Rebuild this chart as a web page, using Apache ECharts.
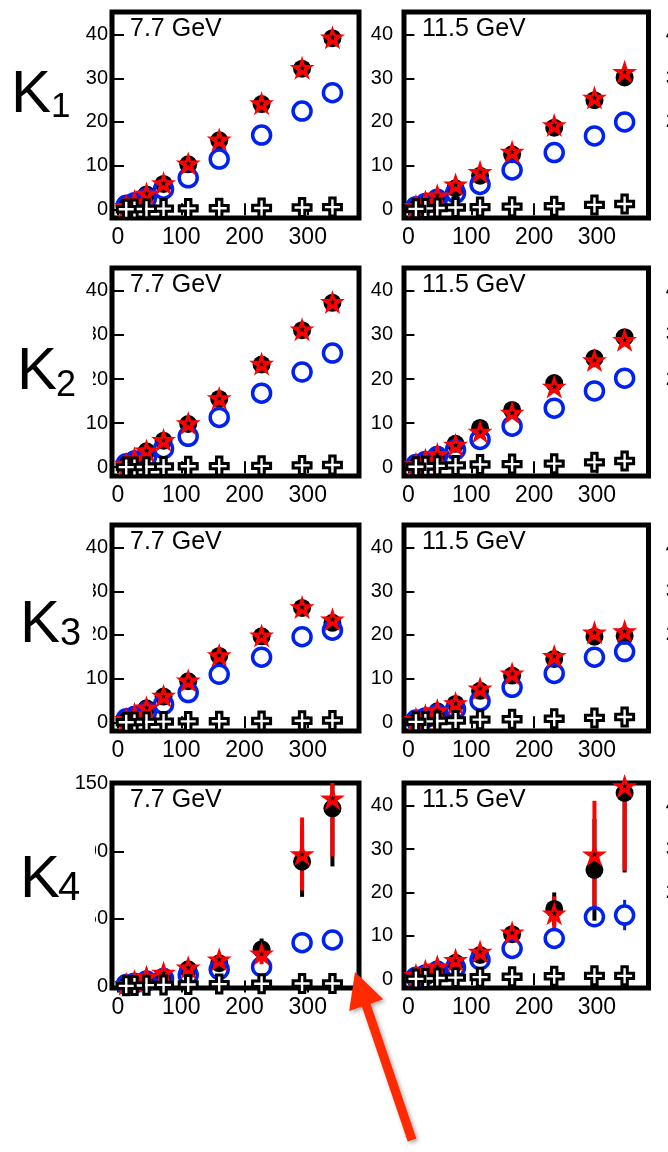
<!DOCTYPE html>
<html><head><meta charset="utf-8">
<script src="https://cdn.jsdelivr.net/npm/echarts@6/dist/echarts.min.js"></script>
<style>html,body{margin:0;padding:0;background:#fff}#c{width:668px;height:1152px}</style>
</head><body><div id="c"></div>
<script>
// ---------- data ----------
const npart77  = [339, 291, 227, 160, 111, 72, 45, 26, 13];
const npart115 = [344, 296, 232, 165, 114, 75, 46, 27, 12];
const energyLabels = ['7.7 GeV', '11.5 GeV'];
const orderLabels = ['1', '2', '3', '4'];
const xTickValues = [0, 100, 200, 300];
const yTickValues = [0, 10, 20, 30, 40];
const yTickValuesK4_77 = [0, 50, 100, 150];

// K1
const k1_77_black  = [39.2, 32.2, 24.1, 15.8, 10.3, 5.8, 3.4, 1.7, 0.6];
const k1_77_red    = [39.4, 32.4, 24.3, 16.0, 10.5, 6.0, 3.6, 1.9, 0.8];
const k1_77_blue   = [26.7, 22.5, 17.0, 11.5, 7.2, 4.6, 2.5, 1.5, 0.9];
const k1_77_cross  = [0.5, 0.4, 0.3, 0.25, 0.2, 0.15, 0.1, 0.05, 0.02];
const k1_115_black = [30.2, 25.0, 18.7, 12.6, 7.7, 4.8, 2.5, 1.3, 0.6];
const k1_115_red   = [31.5, 25.6, 19.3, 13.2, 8.6, 5.7, 3.2, 1.8, 0.8];
const k1_115_blue  = [20.0, 16.8, 13.0, 9.0, 5.7, 3.7, 2.3, 1.3, 0.6];
const k1_115_cross = [1.2, 1.0, 0.7, 0.6, 0.5, 0.4, 0.3, 0.2, 0.1];
// K2
const k2_77_black  = [37.3, 31.1, 23.3, 15.5, 9.8, 6.0, 3.6, 1.8, 0.6];
const k2_77_red    = [37.5, 31.3, 23.5, 15.7, 10.0, 6.2, 3.8, 2.0, 0.8];
const k2_77_blue   = [25.9, 21.6, 16.8, 11.3, 7.0, 4.2, 2.3, 1.4, 0.8];
const k2_77_cross  = [0.5, 0.4, 0.3, 0.25, 0.2, 0.15, 0.1, 0.05, 0.02];
const k2_115_black = [29.5, 24.7, 19.1, 13.0, 8.9, 5.3, 2.8, 1.5, 0.6];
const k2_115_red   = [28.9, 24.3, 18.3, 12.4, 8.1, 5.1, 3.0, 1.7, 0.8];
const k2_115_blue  = [20.2, 17.3, 13.4, 9.3, 6.3, 4.0, 2.4, 1.3, 0.6];
const k2_115_cross = [1.4, 1.1, 0.8, 0.7, 0.6, 0.4, 0.3, 0.2, 0.1];
// K3
const k3_77_black  = [22.8, 26.2, 19.7, 15.2, 9.4, 5.9, 3.2, 1.7, 0.6];
const k3_77_red    = [23.6, 26.4, 19.9, 15.4, 9.6, 6.1, 3.4, 1.9, 0.8];
const k3_77_blue   = [21.1, 19.6, 14.9, 11.0, 6.8, 4.1, 2.3, 1.3, 0.8];
const k3_77_cross  = [0.4, 0.35, 0.3, 0.25, 0.2, 0.15, 0.1, 0.05, 0.02];
const k3_115_black = [19.8, 19.6, 14.5, 10.7, 7.2, 4.2, 2.5, 1.3, 0.6];
const k3_115_red   = [20.9, 20.6, 15.2, 11.2, 7.8, 4.4, 2.8, 1.6, 0.8];
const k3_115_blue  = [16.2, 14.9, 11.2, 8.0, 4.9, 3.0, 1.8, 1.0, 0.5];
const k3_115_cross = [1.2, 1.0, 0.8, 0.7, 0.6, 0.4, 0.3, 0.2, 0.1];
// K4
const k4_77_black  = [131.8, 92.3, 27.5, 17.2, 12.7, 7.3, 4.8, 3.0, 1.5];
const k4_77_red    = [139.2, 98.0, 24.5, 20.1, 14.2, 10.2, 7.3, 4.0, 2.0];
const k4_77_blue   = [34.4, 32.4, 14.6, 12.7, 8.5, 6.0, 4.0, 2.5, 1.5];
const k4_77_cross  = [2.2, 2.2, 2.0, 1.8, 1.5, 1.2, 1.0, 0.8, 0.5];
const k4_77_blackErr = [43, 26, 8, 3, 2, 1.5, 1, 0.5, 0.3];
const k4_77_redErr   = [43, 27, 8, 3, 2, 1.5, 1, 0.5, 0.3];
const k4_77_blueErr  = [5, 2, 1, 0.8, 0.5, 0.3, 0.2, 0.1, 0.1];
const k4_115_black = [42.9, 25.2, 16.2, 10.4, 5.6, 3.8, 2.3, 1.3, 0.6];
const k4_115_red   = [44.5, 28.8, 15.2, 10.8, 6.4, 4.5, 3.0, 2.0, 1.0];
const k4_115_blue  = [14.8, 14.4, 9.4, 7.1, 4.5, 2.7, 1.8, 1.0, 0.5];
const k4_115_cross = [0.8, 0.8, 0.7, 0.6, 0.5, 0.4, 0.3, 0.2, 0.1];
const k4_115_blackErr = [18.3, 11.7, 3.8, 1, 0.7, 0.5, 0.3, 0.2, 0.1];
const k4_115_redErr   = [19.5, 12.3, 3.9, 1, 0.7, 0.5, 0.3, 0.2, 0.1];
const k4_115_blueErr  = [3.5, 2, 0.8, 0.5, 0.3, 0.2, 0.1, 0.1, 0.1];

// ---------- layout ----------
const FONT = 'Liberation Sans, Arial, Helvetica, sans-serif';
const BLUE = '#0022ee';
const cols = [
  {left: 112, width: 247, xMin: -9.5, xMax: 381, npart: npart77, yLabelMargin: 4},
  {left: 404, width: 244.5, xMin: -7, xMax: 382, npart: npart115, yLabelMargin: 11}
];
const rows = [{top: 12, bottom: 218}, {top: 268, bottom: 476}, {top: 525, bottom: 731}, {top: 783, bottom: 988}];

const panels = [
  [{black:k1_77_black, red:k1_77_red, blue:k1_77_blue, cross:k1_77_cross},
   {black:k1_115_black, red:k1_115_red, blue:k1_115_blue, cross:k1_115_cross}],
  [{black:k2_77_black, red:k2_77_red, blue:k2_77_blue, cross:k2_77_cross},
   {black:k2_115_black, red:k2_115_red, blue:k2_115_blue, cross:k2_115_cross}],
  [{black:k3_77_black, red:k3_77_red, blue:k3_77_blue, cross:k3_77_cross},
   {black:k3_115_black, red:k3_115_red, blue:k3_115_blue, cross:k3_115_cross}],
  [{black:k4_77_black, red:k4_77_red, blue:k4_77_blue, cross:k4_77_cross,
    blackErr:k4_77_blackErr, redErr:k4_77_redErr, blueErr:k4_77_blueErr, yMin:-1.1, yMax:150.5, yTicks:yTickValuesK4_77},
   {black:k4_115_black, red:k4_115_red, blue:k4_115_blue, cross:k4_115_cross,
    blackErr:k4_115_blackErr, redErr:k4_115_redErr, blueErr:k4_115_blueErr}]
];

const STAR = 'path://M50,0 L61.2,34.5 L97.6,34.5 L68.2,55.9 L79.4,90.5 L50,69.1 L20.6,90.5 L31.8,55.9 L2.4,34.5 L38.8,34.5 Z';
const PLUS = 'path://M7,0 L13,0 L13,7 L20,7 L20,13 L13,13 L13,20 L7,20 L7,13 L0,13 L0,7 L7,7 Z';

const grid = [], xAxis = [], yAxis = [], series = [], graphic = [];

// error bars drawn ROOT-style: gap around the marker
function errSeries(g, xs, ys, errs, color, width, gap, yMin, yMax) {
  return {
    type: 'custom', xAxisIndex: 2*g, yAxisIndex: 2*g, z: 2,
    encode: {x: 0, y: 1},
    data: xs.map((x, i) => [x, ys[i], errs[i]]),
    silent: true,
    renderItem: function (params, api) {
      const x = api.value(0), y = api.value(1), e = api.value(2);
      const hi = Math.min(y + e, yMax), lo = Math.max(y - e, yMin);
      const pc = api.coord([x, y]), p1 = api.coord([x, hi]), p2 = api.coord([x, lo]);
      const children = [];
      if (pc[1] - gap > p1[1]) children.push({type: 'line', shape: {x1: p1[0], y1: p1[1], x2: pc[0], y2: pc[1] - gap}, style: {stroke: color, lineWidth: width}});
      if (pc[1] + gap < p2[1]) children.push({type: 'line', shape: {x1: pc[0], y1: pc[1] + gap, x2: p2[0], y2: p2[1]}, style: {stroke: color, lineWidth: width}});
      return {type: 'group', children};
    }
  };
}

let g = 0;
rows.forEach((row, r) => {
  cols.forEach((col, c) => {
    const p = panels[r][c];
    const yMin = p.yMin !== undefined ? p.yMin : -2;
    const yMax = p.yMax !== undefined ? p.yMax : 45.2;
    const yT = p.yTicks || yTickValues;
    grid.push({left: col.left, top: row.top, width: col.width, height: row.bottom - row.top,
      show: true, borderColor: '#000', borderWidth: 5, backgroundColor: 'rgba(0,0,0,0)'});
    const tick = {inside: true, length: 6, lineStyle: {color: '#000', width: 2}};
    xAxis.push({gridIndex: g, type: 'value', min: col.xMin, max: col.xMax, position: 'bottom',
      axisLine: {show: false}, splitLine: {show: false},
      axisTick: Object.assign({customValues: xTickValues}, tick),
      axisLabel: {customValues: xTickValues, fontSize: 23, fontFamily: FONT, color: '#000', margin: 8}});
    xAxis.push({gridIndex: g, type: 'value', min: col.xMin, max: col.xMax, position: 'top',
      axisLine: {show: false}, splitLine: {show: false},
      axisTick: Object.assign({customValues: xTickValues}, tick), axisLabel: {show: false}});
    yAxis.push({gridIndex: g, type: 'value', min: yMin, max: yMax, position: 'left',
      axisLine: {show: false}, splitLine: {show: false},
      axisTick: Object.assign({customValues: yT}, tick),
      axisLabel: {customValues: yT, fontSize: 20, fontFamily: FONT, color: '#000', margin: col.yLabelMargin}});
    yAxis.push({gridIndex: g, type: 'value', min: yMin, max: yMax, position: 'right',
      axisLine: {show: false}, splitLine: {show: false},
      axisTick: Object.assign({customValues: yT}, tick), axisLabel: {show: false}});

    const xs = col.npart;
    const pts = arr => xs.map((x, i) => [x, arr[i]]);
    const sc = (extra) => Object.assign({type: 'scatter', xAxisIndex: 2*g, yAxisIndex: 2*g, z: 2}, extra);
    if (p.blackErr) series.push(errSeries(g, xs, p.black, p.blackErr, '#000', 4, 8, yMin, yMax));
    series.push(sc({symbol: 'circle', symbolSize: 18,
      itemStyle: {color: '#000', opacity: 1}, data: pts(p.black)}));
    if (p.blueErr) series.push(errSeries(g, xs, p.blue, p.blueErr, BLUE, 3, 10, yMin, yMax));
    series.push(sc({symbol: 'circle', symbolSize: 18,
      itemStyle: {color: 'rgba(0,0,0,0)', borderColor: BLUE, borderWidth: 3.5, opacity: 1}, data: pts(p.blue)}));
    if (p.redErr) series.push(errSeries(g, xs, p.red, p.redErr, '#ff0000', 4, 3, yMin, yMax));
    series.push(sc({symbol: STAR, symbolSize: [25, 24],
      itemStyle: {color: '#ff0000', opacity: 1}, data: pts(p.red)}));
    series.push(sc({symbol: STAR, symbolSize: [6, 6],
      itemStyle: {color: '#000', opacity: 1}, data: pts(p.red)}));
    series.push(sc({z: 3, symbol: PLUS, symbolSize: 18,
      itemStyle: {color: '#fff', borderColor: '#000', borderWidth: 3, opacity: 1}, data: pts(p.cross)}));

    graphic.push({type: 'text', x: col.left + 18, y: row.top + 17, z: 40,
      style: {text: energyLabels[c], font: '25px ' + FONT, fill: '#000', align: 'left', verticalAlign: 'middle'}});
    g++;
  });
  // third column (cut off at the right edge)
  grid.push({left: 692, top: row.top, width: 200, height: row.bottom - row.top, show: false});
  xAxis.push({gridIndex: g, type: 'value', min: 0, max: 380, show: false});
  xAxis.push({gridIndex: g, type: 'value', min: 0, max: 380, show: false, position: 'top'});
  yAxis.push({gridIndex: g, type: 'value', min: -2, max: 45.2, position: 'left',
    axisLine: {show: false}, splitLine: {show: false}, axisTick: {show: false},
    axisLabel: {customValues: [20, 30, 40], fontSize: 20, fontFamily: FONT, color: '#000', margin: 4}});
  yAxis.push({gridIndex: g, type: 'value', min: -2, max: 45.2, show: false, position: 'right'});
  g++;
});

// white boxes of the K labels that hide parts of the left tick labels
graphic.push({type: 'rect', z: 50, shape: {x: 0, y: 318, width: 93, height: 92}, style: {fill: '#fff'}});
graphic.push({type: 'rect', z: 50, shape: {x: 0, y: 574, width: 93, height: 88}, style: {fill: '#fff'}});
graphic.push({type: 'rect', z: 50, shape: {x: 0, y: 800, width: 95, height: 135}, style: {fill: '#fff'}});

// K labels
const kPos = [
  {kx: 11, ky: 95, sx: 51, sy: 107, ss: 35},
  {kx: 17, ky: 372, sx: 56, sy: 386, ss: 36},
  {kx: 20, ky: 625, sx: 60, sy: 635, ss: 38},
  {kx: 20, ky: 880, sx: 58, sy: 889, ss: 40}
];
kPos.forEach((k, i) => {
  graphic.push({type: 'text', x: k.kx, y: k.ky, z: 60,
    style: {text: 'K', font: '60px ' + FONT, fill: '#000', align: 'left', verticalAlign: 'middle'}});
  graphic.push({type: 'text', x: k.sx, y: k.sy, z: 60,
    style: {text: orderLabels[i], font: k.ss + 'px ' + FONT, fill: '#000', align: 'left', verticalAlign: 'middle'}});
});

// red arrow
graphic.push({type: 'polygon', z: 70,
  shape: {points: [[355, 972], [383.2, 999.3], [370.5, 1003.7], [416.3, 1138.6], [407.7, 1141.4], [361.9, 1006.5], [349.2, 1010.9]]},
  style: {fill: '#ff2a00', shadowBlur: 4, shadowColor: 'rgba(0,0,0,0.35)', shadowOffsetX: 2, shadowOffsetY: 2}});

const chart = echarts.init(document.getElementById('c'), null, {renderer: 'canvas'});
chart.setOption({animation: false, backgroundColor: '#fff', grid, xAxis, yAxis, series, graphic});
</script>
</body></html>
